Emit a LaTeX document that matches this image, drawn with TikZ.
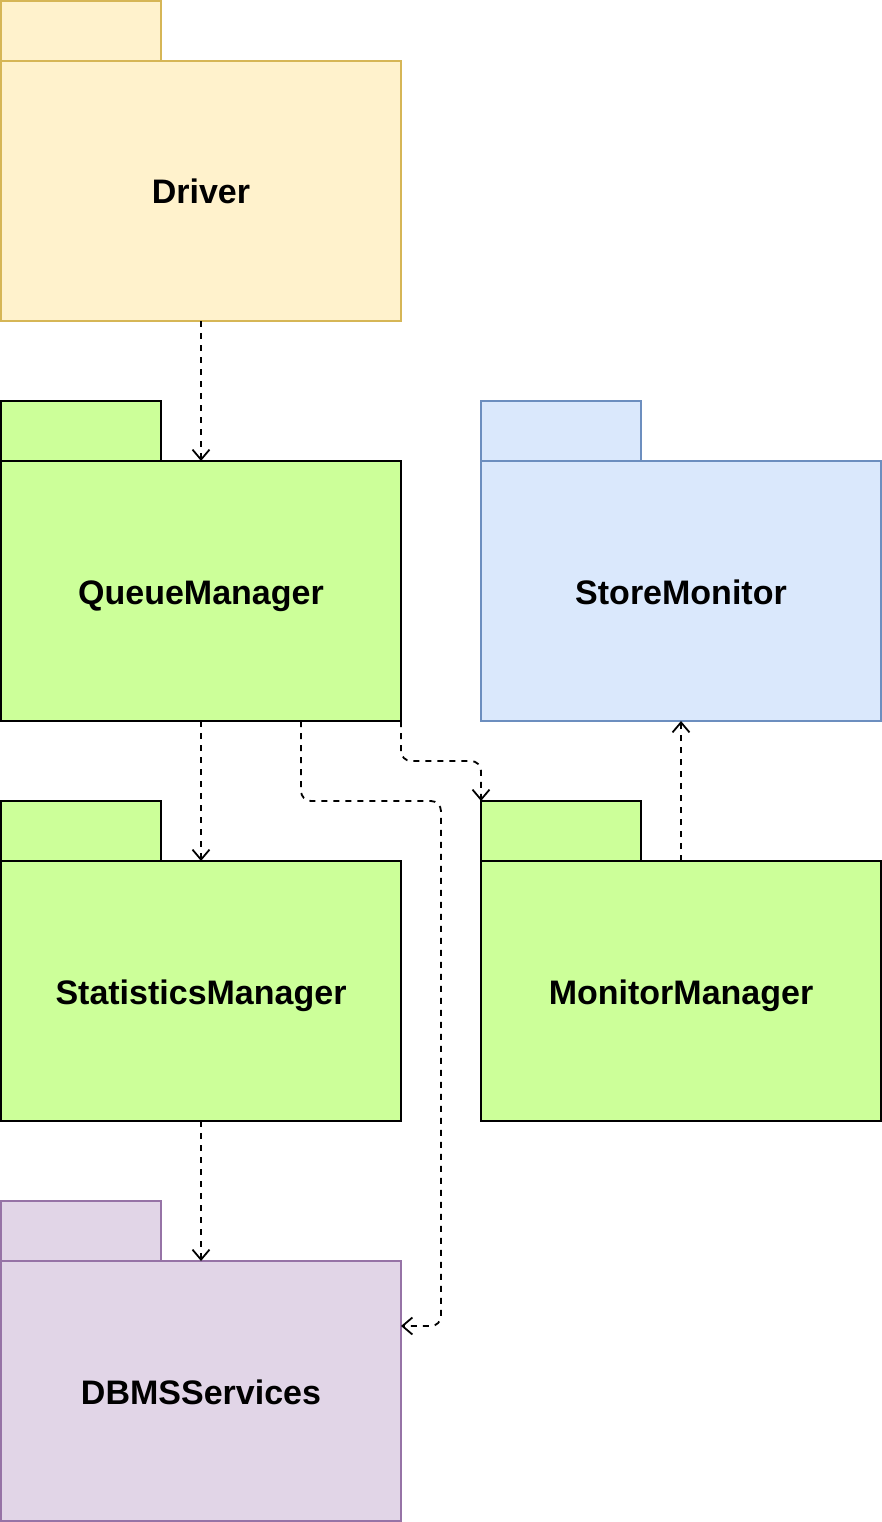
\documentclass[tikz,border=0pt]{standalone}
\usepackage{fontspec}
\setmainfont{Liberation Sans}
\usetikzlibrary{arrows.meta}
\definecolor{drvfill}{HTML}{FFF2CC}
\definecolor{drvline}{HTML}{D6B656}
\definecolor{mgrfill}{HTML}{CCFF99}
\definecolor{monfill}{HTML}{DAE8FC}
\definecolor{monline}{HTML}{6C8EBF}
\definecolor{dbfill}{HTML}{E1D5E7}
\definecolor{dbline}{HTML}{9673A6}
\begin{document}
\begin{tikzpicture}[x=1pt, y=-1pt,
            pkg/.style={rectangle, draw, line width=2pt, minimum width=400pt, minimum height=260pt, inner sep=0pt, outer sep=0pt,
                text height=31pt, text depth=5pt, font=\fontsize{34}{40}\selectfont\bfseries},
            tab/.style={rectangle, draw, line width=2pt, minimum width=160pt, minimum height=60pt, inner sep=0pt, outer sep=0pt, anchor=south west},
            dep/.style={draw, line width=1.8pt, dash pattern=on 6pt off 6pt, rounded corners=10pt,
                -{Straight Barb[length=10pt, width=17pt]}}
            ]
            \useasboundingbox (-1,-1) rectangle (881,1521);
            \node[tab, fill=drvfill, draw=drvline] (drvtab) at (0,60) {};
            \node[pkg, fill=drvfill, draw=drvline] (drv) at (200,190) {Driver};
            \node[tab, fill=mgrfill] (qmtab) at (0,460) {};
            \node[pkg, fill=mgrfill] (qm) at (200,590) {QueueManager};
            \node[tab, fill=monfill, draw=monline] (smtab) at (480,460) {};
            \node[pkg, fill=monfill, draw=monline] (sm) at (680,590) {StoreMonitor};
            \node[tab, fill=mgrfill] (statstab) at (0,860) {};
            \node[pkg, fill=mgrfill] (stats) at (200,990) {StatisticsManager};
            \node[tab, fill=mgrfill] (mmtab) at (480,860) {};
            \node[pkg, fill=mgrfill] (mm) at (680,990) {MonitorManager};
            \node[tab, fill=dbfill, draw=dbline] (dbtab) at (0,1260) {};
            \node[pkg, fill=dbfill, draw=dbline] (db) at (200,1390) {DBMSServices};

            \draw[dep] (drv.south) -- (qm.north);
            \draw[dep] (qm.south) -- (stats.north);
            \draw[dep] (stats.south) -- (db.north);
            \draw[dep] (mm.north) -- (sm.south);
            \draw[dep] (qm.south east) -- ++(0,40) -| (mmtab.north west);
            \draw[dep] ([xshift=-100pt]qm.south east) -- ++(0,80) -- ++(140,0) |- ([yshift=65pt]db.east);
            \end{tikzpicture}
\end{document}
